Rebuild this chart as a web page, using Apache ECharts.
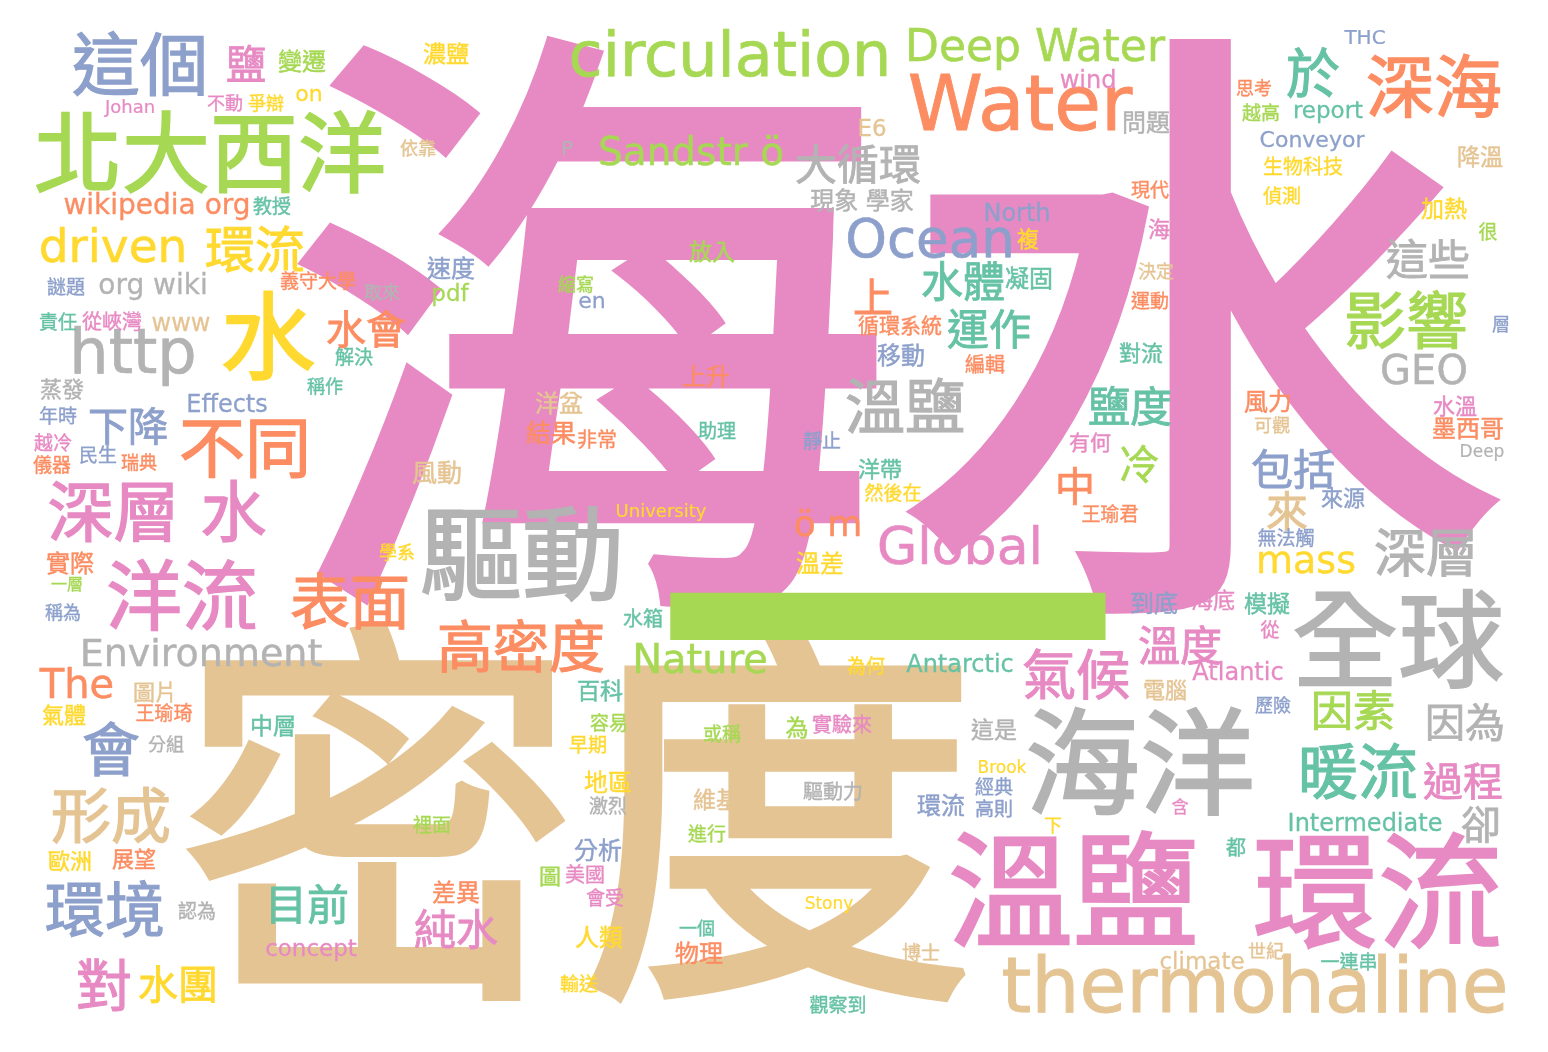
<!DOCTYPE html>
<html>
<head>
<meta charset="utf-8">
<title>溫鹽環流 文字雲</title>
<script src="https://cdn.jsdelivr.net/npm/echarts@6/dist/echarts.min.js"></script>
<style>
  html, body { margin: 0; padding: 0; background: #ffffff; }
  #chart { width: 1548px; height: 1052px; }
</style>
</head>
<body>
<div id="chart"></div>
<script>
// Set2 調色盤
const palette = ['#66c2a5', '#fc8d62', '#8da0cb', '#e78ac3', '#a6d854', '#ffd92f', '#e5c494', '#b3b3b3'];

// 詞語
const words = [
  '海水', '密度', '一',
  '這個', '鹽', '變遷', '濃鹽', 'Johan', '不動', '爭辯', 'on', '北大西洋', '依靠',
  'wikipedia org', '教授', 'driven', '環流', '謎題', 'org wiki', '水', 'http',
  '責任', '從峽灣', 'www', '義守大學', '取來', '水會', '解決', '稱作', '蒸發',
  'Effects', '年時', '下降', '不同', '越冷', '民生', '瑞典', '儀器', '風動',
  '深層 水', '實際', '一層', '稱為', '洋流', '表面', '學系', '驅動', '高密度',
  'Environment', 'The', '圖片', '氣體', '王瑜琦', '會', '分組', '中層', '形成',
  '歐洲', '展望', '環境', '認為', '對', '水團', '目前', 'concept', '差異', '純水', '裡面',
  'circulation', 'Deep Water', 'Water', 'wind', '問題', 'E6', 'P', 'Sandstr ö',
  '大循環', '現象 學家', 'North', 'Ocean', '學', '複', '放入', '速度', 'pdf', '縮寫',
  'en', '上', '水體', '凝固', '循環系統', '運作', '移動', '編輯', '上升', '溫鹽',
  '洋盆', '結果', '非常', '助理', '靜止', '洋帶', '然後在', 'University', 'ö m',
  'Global', '溫差', '水箱', 'Nature', '為何', 'Antarctic', '百科', '容易', '早期',
  '地區', '激烈', '或稱', '為', '實驗來', '這是', 'Brook', '經典', '高則', '環流',
  '驅動力', '維基', '進行', '分析', '圖', '美國', '會受', 'Stony', '一個', '物理',
  '人類', '博士', '輸送', '觀察到',
  'THC', '於', '深海', '思考', '越高', 'report', 'Conveyor', '降溫', '生物科技', '現代',
  '偵測', '加熱', '海', '很', '這些', '決定', '運動', '影響', '層', '對流', 'GEO',
  '風力', '水溫', '可觀', '墨西哥', '鹽度', '有何', '冷', '中', 'Deep', '包括', '來源',
  '王瑜君', '來', '無法觸', 'mass', '深層', '到底', '海底', '模擬', '從', '全球',
  '溫度', '氣候', 'Atlantic', '電腦', '歷險', '因素', '因為', '海洋', '暖流', '過程',
  '含', '下', 'Intermediate', '卻', '都', '溫鹽', '環流', 'climate', '世紀', '一連串',
  'thermohaline'
];

// 字級（權重）
const weights = [
  612, 400, 465,
  68, 40, 24, 23, 18, 18, 18, 22, 88, 18,
  28, 19, 47, 50, 19, 28, 95, 62,
  19, 20, 24, 19, 18, 40, 19, 18, 22,
  24, 19, 40, 66, 19, 19, 18, 19, 25,
  66, 24, 16, 18, 76, 60, 18, 102, 56,
  38, 40, 22, 22, 19, 58, 18, 23, 60,
  22, 22, 60, 19, 56, 40, 42, 23, 24, 42, 19,
  62, 44, 76, 24, 24, 23, 20, 39,
  42, 24, 24, 53, 18, 22, 23, 24, 23, 18,
  22, 40, 42, 24, 21, 42, 24, 20, 24, 60,
  24, 25, 20, 19, 19, 22, 19, 18, 36,
  52, 24, 20, 40, 19, 24, 23, 19, 19,
  24, 19, 19, 23, 20, 23, 17, 19, 19, 24,
  20, 23, 19, 24, 22, 20, 19, 17, 18, 24,
  24, 19, 19, 19,
  20, 54, 68, 18, 19, 23, 22, 23, 20, 19,
  19, 23, 22, 19, 42, 18, 19, 62, 18, 22, 40,
  24, 22, 18, 24, 42, 21, 40, 40, 17, 42, 22,
  19, 42, 19, 38, 52, 24, 22, 23, 19, 106,
  42, 54, 24, 22, 18, 42, 40, 115, 60, 40,
  17, 18, 24, 40, 20, 125, 125, 23, 18, 19,
  76
];

// 版面座標（圖上讀出的中心點）
const posX = [
  893, 578, 887,
  140, 246, 302, 446, 130, 225, 266, 309, 210, 418,
  157, 272, 113, 255, 66, 153, 268, 133,
  58, 112, 181, 318, 382, 366, 354, 325, 62,
  227, 58, 128, 245, 53, 98, 139, 52, 437,
  157, 70, 67, 63, 182, 350, 397, 522, 521,
  201, 77, 155, 64, 164, 111, 166, 273, 111,
  70, 134, 105, 197, 104, 178, 307, 311, 456, 456, 432,
  730, 1035, 1020, 1088, 1146, 872, 567, 691,
  858, 862, 1017, 930, 816, 1028, 712, 451, 450, 576,
  592, 873, 963, 1029, 900, 989, 901, 985, 706, 905,
  559, 551, 597, 717, 822, 880, 893, 661, 828,
  960, 820, 643, 700, 866, 960, 600, 609, 588,
  608, 608, 722, 797, 842, 994, 1002, 994, 994, 941,
  833, 716, 707, 598, 550, 585, 605, 829, 697, 699,
  599, 921, 579, 838,
  1365, 1313, 1434, 1254, 1261, 1328, 1312, 1480, 1303, 1150,
  1282, 1444, 1159, 1488, 1428, 1156, 1150, 1406, 1501, 1141, 1424,
  1268, 1455, 1272, 1468, 1130, 1090, 1139, 1075, 1482, 1293, 1343,
  1110, 1287, 1286, 1306, 1426, 1154, 1213, 1267, 1270, 1398,
  1180, 1076, 1238, 1165, 1273, 1353, 1465, 1140, 1358, 1463,
  1180, 1053, 1365, 1481, 1236, 1073, 1378, 1202, 1266, 1349,
  1255
];

const posY = [
  338, 822, 630,
  65, 65, 62, 54, 108, 103, 103, 95, 153, 148,
  207, 206, 250, 250, 287, 287, 337, 357,
  322, 322, 325, 281, 292, 330, 357, 386, 389,
  406, 416, 427, 448, 443, 455, 462, 465, 472,
  512, 564, 584, 612, 596, 602, 552, 555, 646,
  656, 688, 692, 715, 713, 750, 744, 726, 816,
  861, 859, 910, 911, 985, 985, 905, 950, 893, 930, 825,
  60, 50, 110, 82, 123, 130, 150, 155,
  165, 201, 215, 243, 237, 239, 252, 269, 295, 284,
  302, 298, 282, 279, 326, 330, 356, 365, 377, 407,
  404, 432, 440, 431, 441, 469, 493, 512, 527,
  550, 564, 619, 663, 666, 666, 691, 723, 745,
  783, 806, 734, 728, 725, 730, 769, 787, 809, 806,
  792, 800, 834, 851, 876, 875, 898, 905, 928, 954,
  938, 953, 984, 1005,
  39, 75, 87, 88, 113, 112, 141, 157, 167, 190,
  196, 209, 229, 232, 260, 271, 301, 322, 324, 353, 374,
  402, 406, 425, 429, 407, 443, 465, 487, 453, 470, 498,
  514, 512, 538, 563, 553, 604, 600, 604, 630, 640,
  646, 676, 674, 690, 705, 711, 723, 763, 772, 782,
  807, 825, 825, 825, 848, 892, 893, 963, 951, 962,
  992
];

// 顏色索引（對應 palette）
const tones = [
  3, 6, 4,
  2, 3, 4, 5, 3, 3, 5, 5, 4, 6,
  1, 0, 5, 5, 2, 7, 5, 7,
  0, 3, 6, 1, 7, 1, 0, 0, 7,
  2, 2, 2, 1, 3, 2, 1, 1, 6,
  3, 1, 4, 2, 3, 1, 5, 7, 1,
  7, 1, 6, 5, 1, 2, 7, 0, 6,
  5, 1, 2, 7, 3, 5, 0, 3, 1, 3, 4,
  4, 4, 1, 3, 7, 6, 7, 4,
  7, 7, 2, 2, 3, 5, 4, 2, 4, 4,
  2, 1, 0, 0, 1, 0, 2, 1, 1, 7,
  6, 1, 1, 0, 2, 0, 5, 5, 1,
  3, 5, 0, 4, 5, 0, 0, 4, 5,
  5, 7, 4, 4, 3, 7, 5, 2, 2, 2,
  7, 6, 4, 2, 4, 3, 3, 5, 0, 1,
  5, 6, 5, 0,
  2, 0, 1, 1, 4, 0, 2, 6, 5, 1,
  5, 5, 3, 4, 7, 6, 1, 4, 2, 0, 7,
  1, 3, 6, 1, 0, 3, 4, 1, 7, 2, 2,
  1, 6, 2, 5, 7, 2, 3, 0, 3, 7,
  3, 3, 3, 6, 2, 4, 7, 7, 0, 3,
  3, 5, 0, 7, 0, 3, 3, 6, 6, 0,
  6
];

const chart = echarts.init(document.getElementById('chart'));

// 中文字落在 DejaVu 行框偏上，往下補一點；同色細描邊讓筆畫略粗
const hasCJK = (w) => /[\u4e00-\u9fff]/.test(w);

const seriesData = words.map((w, i) => {
  const cjk = hasCJK(w);
  const size = weights[i];
  const color = palette[tones[i]];
  return {
    name: w,
    value: [posX[i], posY[i]],
    label: {
      fontSize: size,
      color: color,
      textBorderColor: color,
      textBorderWidth: size * (cjk ? 0.02 : 0.012),
      offset: [0, cjk ? Math.round(size * 0.1) : 0]
    }
  };
});

const option = {
  backgroundColor: '#ffffff',
  animation: false,
  grid: { left: 0, right: 0, top: 0, bottom: 0 },
  xAxis: { type: 'value', min: 0, max: 1548, show: false },
  yAxis: { type: 'value', min: 0, max: 1052, inverse: true, show: false },
  series: [{
    type: 'scatter',
    silent: true,
    symbolSize: 1,
    itemStyle: { color: 'rgba(0,0,0,0)', opacity: 1 },
    label: {
      show: true,
      position: 'inside',
      formatter: '{b}',
      opacity: 1,
      fontWeight: 'normal',
      fontFamily: "'DejaVu Sans', 'Noto Sans CJK TC', sans-serif"
    },
    data: seriesData
  }]
};

chart.setOption(option);
</script>
</body>
</html>
